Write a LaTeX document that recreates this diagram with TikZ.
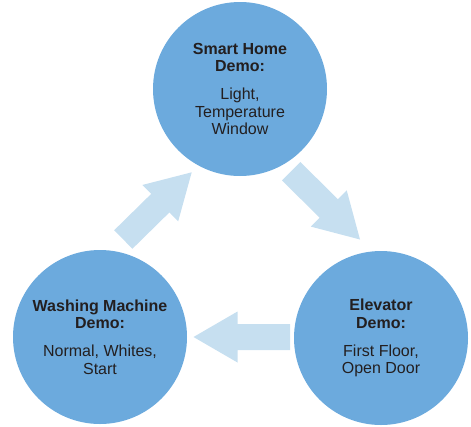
\documentclass[tikz,border=0pt]{standalone}
\usepackage{fontspec}
\setmainfont{Liberation Sans}
\usetikzlibrary{calc}
\definecolor{circfill}{RGB}{108,170,221}
\definecolor{arrowfill}{RGB}{198,223,240}
\definecolor{txt}{RGB}{35,31,32}
\tikzset{
  demo/.style={circle, fill=circfill, minimum size=174pt, inner sep=0pt,
    align=center, text=txt, font=\fontsize{16pt}{17.5pt}\selectfont},
}
\newcommand{\blockarrow}[2]{%
  \coordinate (#1-h) at ($(#2)!44pt!(#1)$);
  \fill[arrowfill] ($(#1)!13pt!90:(#2)$) -- ($(#1-h)!13pt!90:(#2)$) -- ($(#1-h)!25.5pt!90:(#2)$) -- (#2)
    -- ($(#1-h)!25.5pt!-90:(#2)$) -- ($(#1-h)!13pt!-90:(#2)$) -- ($(#1)!13pt!-90:(#2)$) -- cycle;}
\begin{document}
\begin{tikzpicture}[x=1pt, y=-1pt]
  \useasboundingbox (0,0) rectangle (471,426);
  \node[demo] (home) at (240,89) {\textbf{Smart Home}\\\textbf{Demo:}\\[10.5pt]Light,\\Temperature\\Window};
  \node[demo] (wash) at (100,337) {\textbf{Washing Machine}\\\textbf{Demo:}\\[10.5pt]Normal, Whites,\\Start};
  \node[demo] (elev) at (381,338) {\textbf{Elevator}\\\textbf{Demo:}\\[10.5pt]First Floor,\\Open Door};
  \coordinate (a1t) at (123.3,239.5);
  \coordinate (a1p) at (191.7,172.3);
  \coordinate (a2t) at (291.2,171.2);
  \coordinate (a2p) at (360,239.5);
  \coordinate (a3t) at (290,337);
  \coordinate (a3p) at (193.5,337);
  \blockarrow{a1t}{a1p}
  \blockarrow{a2t}{a2p}
  \blockarrow{a3t}{a3p}
\end{tikzpicture}
\end{document}
